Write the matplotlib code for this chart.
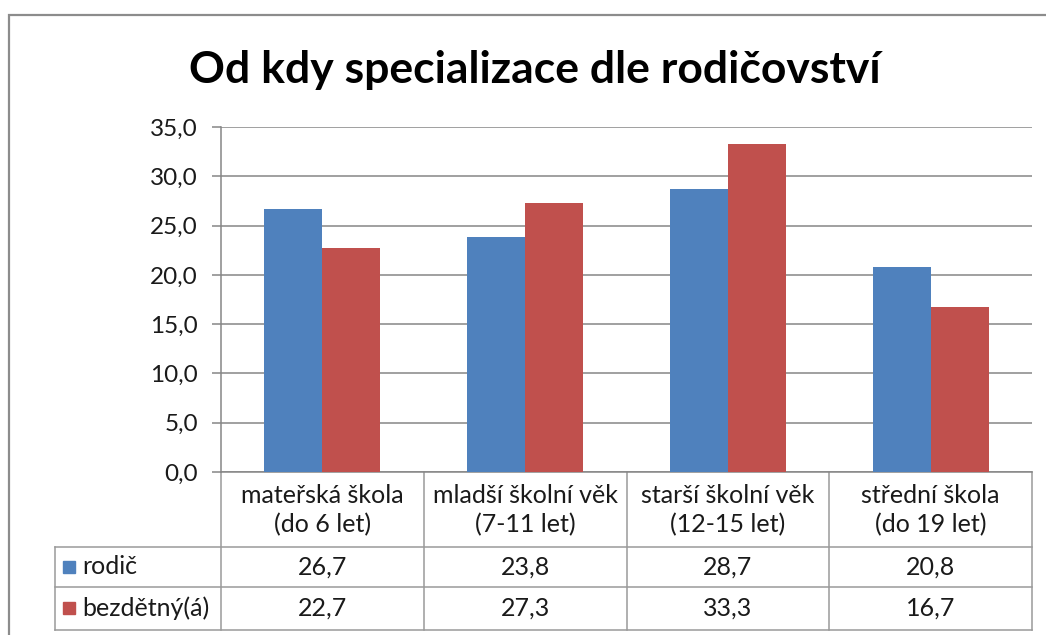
import numpy as np
import matplotlib
matplotlib.use("Agg")
import matplotlib.pyplot as plt
from matplotlib.patches import Rectangle
from matplotlib.ticker import FuncFormatter, MultipleLocator

plt.rcParams['font.family'] = ['Lato', 'DejaVu Sans']

title = "Od kdy specializace dle rodičovství"
kategorie = ["mateřská škola\n(do 6 let)", "mladší školní věk\n(7-11 let)",
             "starší školní věk\n(12-15 let)", "střední škola\n(do 19 let)"]
rodic = [26.7, 23.8, 28.7, 20.8]
bezdetny = [22.7, 27.3, 33.3, 16.7]
serie = ["rodič", "bezdětný(á)"]
barvy = ["#4F81BD", "#C0504D"]

W, H = 1046, 635
fig = plt.figure(figsize=(W / 100, H / 100), dpi=100)

def fx(px):
    return px / W

def fy(py):
    return 1 - py / H

# outer chart frame
fig.add_artist(Rectangle((fx(9), fy(700)), fx(1100), fy(15) - fy(700),
                         transform=fig.transFigure, fill=False,
                         edgecolor="#8c8c8c", linewidth=1.6))

ax = fig.add_axes([fx(221), fy(472), fx(1032) - fx(221), fy(127) - fy(472)])
x = np.arange(len(kategorie))
w = 0.286
ax.bar(x - w / 2, rodic, w, color=barvy[0], zorder=3)
ax.bar(x + w / 2, bezdetny, w, color=barvy[1], zorder=3)

ax.set_xlim(-0.5, len(kategorie) - 0.5)
ax.set_ylim(0, 35)
ax.yaxis.set_major_locator(MultipleLocator(5))
ax.yaxis.set_major_formatter(FuncFormatter(lambda v, p: f"{v:.1f}".replace(".", ",")))
ax.grid(axis="y", color="#868686", linewidth=1.1, zorder=0)
ax.set_xticks([])
ax.tick_params(axis="y", length=6.5, width=1.1, color="#868686",
               labelsize=17.5, pad=10, labelcolor="#1a1a1a")
for s in ["top", "right"]:
    ax.spines[s].set_visible(False)
ax.spines["left"].set_color("#868686")
ax.spines["left"].set_linewidth(1.1)
ax.spines["bottom"].set_color("#868686")
ax.spines["bottom"].set_linewidth(1.1)

# data table below the axis
tr = ax.get_xaxis_transform()
px_y = 345.0
def ay(py):
    return (472 - py) / px_y

left_x = -0.5 + (55 - 221) / 202.75
lc = "#9a9a9a"
for py in [547, 587, 630]:
    ax.plot([left_x, 3.5], [ay(py), ay(py)], color=lc, lw=1.1, transform=tr, clip_on=False)
ax.plot([left_x, left_x], [ay(547), ay(630)], color=lc, lw=1.1, transform=tr, clip_on=False)
for b in np.arange(-0.5, 4.0, 1.0):
    ax.plot([b, b], [0, ay(630)], color=lc, lw=1.1, transform=tr, clip_on=False)

fs = 18
for i, lab in enumerate(kategorie):
    ax.text(i, ay(510), lab, transform=tr, ha="center", va="center",
            fontsize=fs, linespacing=1.28, color="#1a1a1a")
    ax.text(i, ay(567), f"{rodic[i]:.1f}".replace(".", ","), transform=tr,
            ha="center", va="center", fontsize=fs, color="#1a1a1a")
    ax.text(i, ay(608), f"{bezdetny[i]:.1f}".replace(".", ","), transform=tr,
            ha="center", va="center", fontsize=fs, color="#1a1a1a")

for j, (nazev, py) in enumerate(zip(serie, [567, 608])):
    fig.add_artist(Rectangle((fx(63), fy(py + 6)), fx(12), fy(py - 6) - fy(py + 6),
                             transform=fig.transFigure, color=barvy[j]))
    fig.text(fx(82), fy(py), nazev, ha="left", va="center", fontsize=fs, color="#1a1a1a")

fig.text(fx(535), fy(70), title, ha="center", va="center", fontsize=32,
         fontweight="bold", color="black")

fig.savefig("out.png", dpi=100)
